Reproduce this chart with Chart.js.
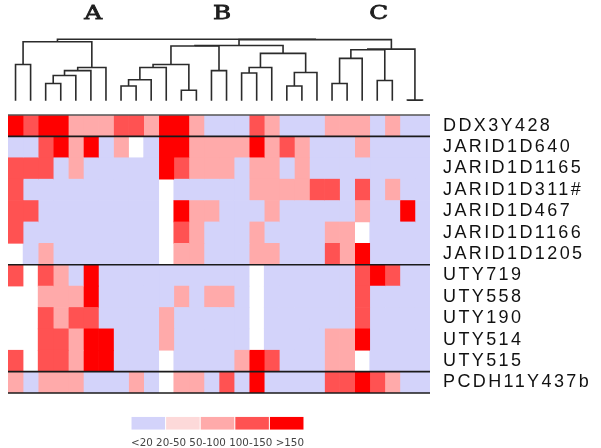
<!DOCTYPE html>
<html><head><meta charset="utf-8">
<script src="https://cdn.jsdelivr.net/npm/chart.js@4"></script>
<style>
html,body{margin:0;padding:0;background:#fff;overflow:hidden;width:601px;height:448px}
#wrap{position:relative;width:601px;height:448px;background:#fff}
canvas{position:absolute}
</style></head><body>
<div id="wrap">
<canvas id="heat" width="601" height="448" style="left:0;top:0"></canvas>
<canvas id="dendro" width="601" height="115" style="left:0;top:0"></canvas>
<canvas id="key" width="200" height="48" style="left:120px;top:405px"></canvas>
</div>
<script>
// ---------- data ----------
const rowLabels = ['DDX3Y428','JARID1D640','JARID1D1165','JARID1D311#','JARID1D467','JARID1D1166','JARID1D1205','UTY719','UTY558','UTY190','UTY514','UTY515','PCDH11Y437b'];
const N = null; // missing cell
// class codes per column: 0 "<20", 1 "20-50", 2 "50-100", 3 "100-150", 4 ">150"
const ddx3y428    = [4,3,4,4,2,2,2,3,3,2,4,4,2,0,0,0,3,2,0,0,0,2,2,2,0,2,0,0];
const jarid1d640  = [0,0,3,4,2,4,0,2,N,0,4,4,2,2,2,2,4,2,3,2,0,0,0,2,0,0,0,0];
const jarid1d1165 = [3,3,3,0,2,0,0,0,0,0,4,3,2,2,2,0,2,2,0,2,0,0,0,0,0,0,0,0];
const jarid1d311  = [3,0,0,0,0,0,0,0,0,0,N,0,0,0,0,0,2,2,2,2,3,3,0,3,0,2,0,0];
const jarid1d467  = [3,3,0,0,0,0,0,0,0,0,N,4,2,2,0,0,0,2,0,0,0,0,0,2,0,0,4,0];
const jarid1d1166 = [3,0,0,0,0,0,0,0,0,0,N,3,2,0,0,0,2,0,0,0,0,2,2,N,0,0,0,0];
const jarid1d1205 = [N,0,2,0,0,0,0,0,0,0,N,2,2,0,0,0,2,2,0,0,0,3,2,4,0,0,0,0];
const uty719      = [3,N,3,2,0,4,0,0,0,0,0,0,0,0,0,0,N,0,0,0,0,0,0,3,4,3,0,0];
const uty558      = [N,N,2,2,2,4,0,0,0,0,0,2,0,2,2,0,N,0,0,0,0,0,0,3,0,0,0,0];
const uty190      = [N,N,3,2,3,3,0,0,0,0,2,0,0,0,0,0,N,0,0,0,0,0,0,3,0,0,0,0];
const uty514      = [N,N,3,3,2,4,4,0,0,0,2,0,0,0,0,0,N,0,0,0,0,2,2,4,0,0,0,0];
const uty515      = [3,N,3,3,2,4,4,0,0,0,N,0,0,0,0,2,4,3,0,0,0,2,2,N,0,0,0,0];
const pcdh11y437b = [2,0,2,2,2,0,0,0,2,0,N,2,2,0,3,0,4,0,0,0,0,3,3,4,3,2,0,0];
const groupStarts = [1,7,12];

const legendLabels = ['<20','20-50','50-100','100-150','>150'];
const clusterNames = ['A','B','C'];

// dendrogram: leaves 0..27 are columns, merge k creates node 28+k
const mergeLeft   = [0,2,29,30,31,28,7,34,35,11,36,13,38,15,41,18,43,42,40,21,47,24,48,26,50,46,33];
const mergeRight  = [1,3,4,5,6,32,8,9,10,12,37,14,39,16,17,19,20,44,45,22,23,25,49,27,51,52,53];
const mergeHeight = [0.59,0.28,0.41,0.49,0.54,0.96,0.24,0.34,0.54,0.17,0.59,0.49,0.89,0.45,0.54,0.24,0.46,0.77,0.90,0.28,0.69,0.33,0.83,0.01,0.84,0.995,1.0];

// ---------- styling ----------
const palette = ['#d3d3fa','#fdd9d9','#ffaaaa','#ff5252','#ff0000'];
const matrix = [ddx3y428,jarid1d640,jarid1d1165,jarid1d311,jarid1d467,jarid1d1166,jarid1d1205,uty719,uty558,uty190,uty514,uty515,pcdh11y437b];
const nCols = ddx3y428.length;
const colIdx = Array.from({length:nCols},(_,i)=>i);

// ---------- heatmap ----------
const heatDatasets = colIdx.map(c => ({
  data: matrix.map(row => row[c] === null ? null : [c-0.5, c+0.5]),
  backgroundColor: matrix.map(row => row[c] === null ? 'rgba(0,0,0,0)' : palette[row[c]]),
  borderWidth: 0,
  barPercentage: 1,
  categoryPercentage: 1,
  grouped: false
}));

const separators = {
  id:'separators',
  afterDatasetsDraw(chart){
    const ctx = chart.ctx, ys = chart.scales.y, a = chart.chartArea;
    const lines = [a.top];
    groupStarts.forEach(i => lines.push((ys.getPixelForValue(i-1)+ys.getPixelForValue(i))/2));
    lines.push(a.bottom);
    ctx.save();
    lines.forEach((y,k) => {
      ctx.strokeStyle = k===0 ? '#555' : '#1a1a1a';
      ctx.lineWidth = 1.6;
      ctx.beginPath(); ctx.moveTo(a.left, y); ctx.lineTo(a.right, y); ctx.stroke();
    });
    ctx.restore();
  }
};
const spacing = {
  id:'spacing',
  beforeDraw(c){ c.ctx.letterSpacing = '2.4px'; },
  afterDraw(c){ c.ctx.letterSpacing = '0px'; }
};

new Chart(document.getElementById('heat'), {
  type:'bar',
  data:{ labels: rowLabels, datasets: heatDatasets },
  options:{
    indexAxis:'y', responsive:false, animation:false, devicePixelRatio:1,
    layout:{ padding:{ left:8, top:115, bottom:55, right:0 } },
    plugins:{ legend:{display:false}, tooltip:{enabled:false} },
    scales:{
      x:{ type:'linear', min:-0.5, max:nCols-0.5, display:false },
      y:{ type:'category', position:'right',
          grid:{ display:false, drawTicks:false }, border:{ display:false },
          ticks:{ autoSkip:false, padding:13, color:'#111', font:{ family:'"Liberation Sans", Arial, sans-serif', size:18 } },
          afterFit(s){ s.width = 171; } }
    }
  },
  plugins:[separators, spacing]
});

// ---------- dendrogram ----------
const nodeX = colIdx.slice(), nodeH = colIdx.map(()=>0);
const dendroSets = mergeLeft.map((l,k) => {
  const r = mergeRight[k], h = mergeHeight[k];
  const xl = nodeX[l], xr = nodeX[r];
  nodeX.push((xl+xr)/2); nodeH.push(h);
  return {
    data:[{x:xl,y:nodeH[l]},{x:xl,y:h},{x:xr,y:h},{x:xr,y:nodeH[r]}],
    showLine:true, pointRadius:0, borderColor:'#2b2b2b', borderWidth:1.6, clip:false
  };
});

const clusterLetters = {
  id:'clusterLetters',
  afterDraw(chart){
    const ctx = chart.ctx, xs = chart.scales.x;
    const at = [5.15, 13.7, 24.1];
    ctx.save();
    ctx.fillStyle = '#1e1e1e'; ctx.strokeStyle = '#1e1e1e'; ctx.lineWidth = 0.8;
    ctx.font = '19px "DejaVu Serif", "Liberation Serif", serif';
    ctx.textAlign = 'center'; ctx.textBaseline = 'alphabetic';
    clusterNames.forEach((t,i) => {
      ctx.save();
      ctx.translate(xs.getPixelForValue(at[i]), 18.5);
      ctx.scale(1.3, 1);
      ctx.fillText(t, 0, 0);
      ctx.strokeText(t, 0, 0);
      ctx.restore();
    });
    ctx.restore();
  }
};

new Chart(document.getElementById('dendro'), {
  type:'scatter',
  data:{ datasets: dendroSets },
  options:{
    responsive:false, animation:false, devicePixelRatio:1,
    layout:{ padding:{ left:8, right:171, top:39.3, bottom:14.3 } },
    plugins:{ legend:{display:false}, tooltip:{enabled:false} },
    scales:{
      x:{ type:'linear', min:-0.5, max:nCols-0.5, display:false },
      y:{ type:'linear', min:0, max:1, display:false }
    }
  },
  plugins:[clusterLetters]
});

// ---------- colour key ----------
new Chart(document.getElementById('key'), {
  type:'bar',
  data:{ labels: legendLabels, datasets:[{ data: legendLabels.map(()=>1), backgroundColor: palette, borderWidth:0, barPercentage:0.97, categoryPercentage:1 }] },
  options:{
    responsive:false, animation:false, devicePixelRatio:1,
    layout:{ padding:{ left:11, right:16, top:11.7, bottom:2.7 } },
    plugins:{
      legend:{display:false}, tooltip:{enabled:false},
      title:{ display:true, position:'bottom', text: legendLabels.join(' '), color:'#444',
              padding:{ top:7, bottom:0 }, font:{ family:'"DejaVu Sans", sans-serif', size:11.2, weight:'normal', lineHeight:1.2 } }
    },
    scales:{ x:{ display:false }, y:{ display:false, min:0, max:1 } }
  }
});
</script>
</body></html>
